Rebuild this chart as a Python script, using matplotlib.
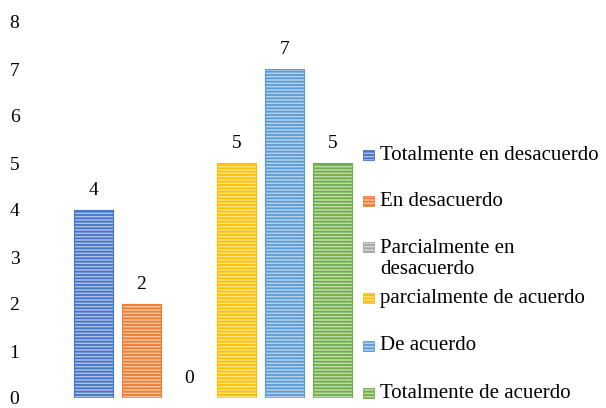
import matplotlib
matplotlib.use("Agg")
import matplotlib.pyplot as plt
from matplotlib.patches import Rectangle
import matplotlib.colors as mcolors

categories = ["Totalmente en desacuerdo", "En desacuerdo", "Parcialmente en\ndesacuerdo",
              "parcialmente de acuerdo", "De acuerdo", "Totalmente de acuerdo"]
values = [4, 2, 0, 5, 7, 5]
colors = ["#4472C4", "#ED7D31", "#A5A5A5", "#FFC000", "#5B9BD5", "#70AD47"]
yticks = [0, 1, 2, 3, 4, 5, 6, 7, 8]

plt.rcParams['font.family'] = ['Liberation Serif', 'DejaVu Serif']
plt.rcParams['hatch.linewidth'] = 1.3

W, H = 606, 408
fig = plt.figure(figsize=(W / 100, H / 100), dpi=100)

def fx(px):
    return px / W

def fy(py):
    return 1 - py / H

L, R, T, B = 50, 372, 22, 398
ax = fig.add_axes([fx(L), fy(B), fx(R) - fx(L), fy(T) - fy(B)])

def tint(c, f=0.55):
    r, g, b = mcolors.to_rgb(c)
    return (r + (1 - r) * f, g + (1 - g) * f, b + (1 - b) * f)

for i, (v, c) in enumerate(zip(values, colors)):
    bars = ax.bar(i, v, width=0.82, color=tint(c), edgecolor=c,
                  linewidth=0.8 if v > 0 else 0, hatch='-----')
    ax.bar_label(bars, labels=[str(v)], padding=8, fontsize=14)

ax.set_xlim((L - 93.5) / 47.8, (R - 93.5) / 47.8)
ax.set_ylim(0, 8)
ax.set_yticks(yticks)
ax.set_yticklabels([str(t) for t in yticks], fontsize=14)
ax.tick_params(axis='y', length=0, pad=22)
ax.set_xticks([])
for s in ax.spines.values():
    s.set_visible(False)

# Legend (manual layout, Excel style)
leg_y = [155, 201, 247, 298, 346, 393]
for lab, c, yy in zip(categories, colors, leg_y):
    rect = Rectangle((fx(363), fy(yy + 5)), fx(11), fy(yy - 5) - fy(yy + 5),
                     transform=fig.transFigure, facecolor=tint(c), edgecolor=c,
                     linewidth=0.6, hatch='-----')
    fig.patches.append(rect)
    if '\n' in lab:
        fig.text(fx(380), fy(yy - 8), lab, fontsize=15, va='top', ha='left',
                 linespacing=1.15)
    else:
        fig.text(fx(380), fy(yy), lab, fontsize=15, va='center', ha='left')

fig.savefig("out.png", dpi=100)
